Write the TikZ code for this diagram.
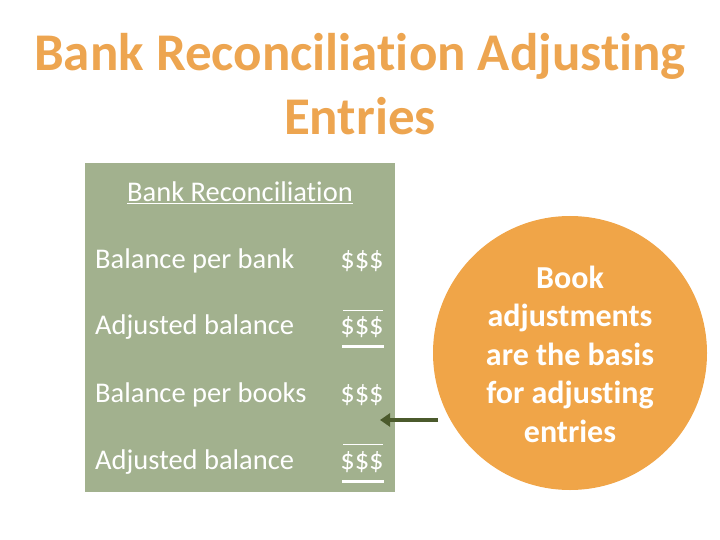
\documentclass[tikz,border=0pt]{standalone}
\usepackage{fontspec}
\setmainfont[RawFeature={-liga;-clig}]{Carlito}
\usetikzlibrary{arrows.meta}
\definecolor{ttl}{HTML}{EDA550}
\definecolor{gbox}{HTML}{A2B18E}
\definecolor{circ}{HTML}{F0A548}
\definecolor{arr}{HTML}{4B5A2C}
\begin{document}
\begin{tikzpicture}[x=1pt,y=-1pt,
  lbl/.style={text=white,font=\fontsize{28.5}{32}\selectfont,anchor=west,inner sep=0pt},
  amt/.style={text=white,font=\fontsize{28.5}{32}\selectfont,inner sep=0pt},
  thin/.style={white,line width=0.8pt},
  thick/.style={white,line width=3pt}]
\useasboundingbox (0,0) rectangle (720,540);
\node[text=ttl,font=\bfseries\fontsize{53}{64}\selectfont,align=center] (title) at (360,84) {Bank Reconciliation Adjusting\\Entries};
\fill[gbox] (85,163) rectangle (395,492);
\node[text=white,font=\fontsize{28.5}{32}\selectfont] (rt) at (240,193) {\underline{Bank Reconciliation}};
\node[lbl] (l1) at (95,261) {Balance per bank};
\node[lbl] (l2) at (95,327) {Adjusted balance};
\node[lbl] (l3) at (95,395) {Balance per books};
\node[lbl] (l4) at (95,462) {Adjusted balance};
\node[amt] (a1) at (362,261) {\$\$\$};
\node[amt] (a2) at (362,327) {\$\$\$};
\node[amt] (a3) at (362,395) {\$\$\$};
\node[amt] (a4) at (362,462) {\$\$\$};
\draw[thin] (343,310) -- (383,310);
\draw[thick] (342,346) -- (384,346);
\draw[thin] (343,444) -- (383,444);
\draw[thick] (342,481) -- (384,481);
\node[circle,fill=circ,minimum size=274pt,inner sep=0pt] (c) at (570,353) {};
\node[text=white,font=\bfseries\fontsize{32}{38.5}\selectfont,align=center] (ct) at (570,354) {Book\\adjustments\\are the basis\\for adjusting\\entries};
\coordinate (tip) at (380,420);
\coordinate (st) at (438,420);
\draw[arr,line width=4pt,-{Triangle[length=10pt,width=13pt]}] (st) -- (tip);
\end{tikzpicture}
\end{document}
